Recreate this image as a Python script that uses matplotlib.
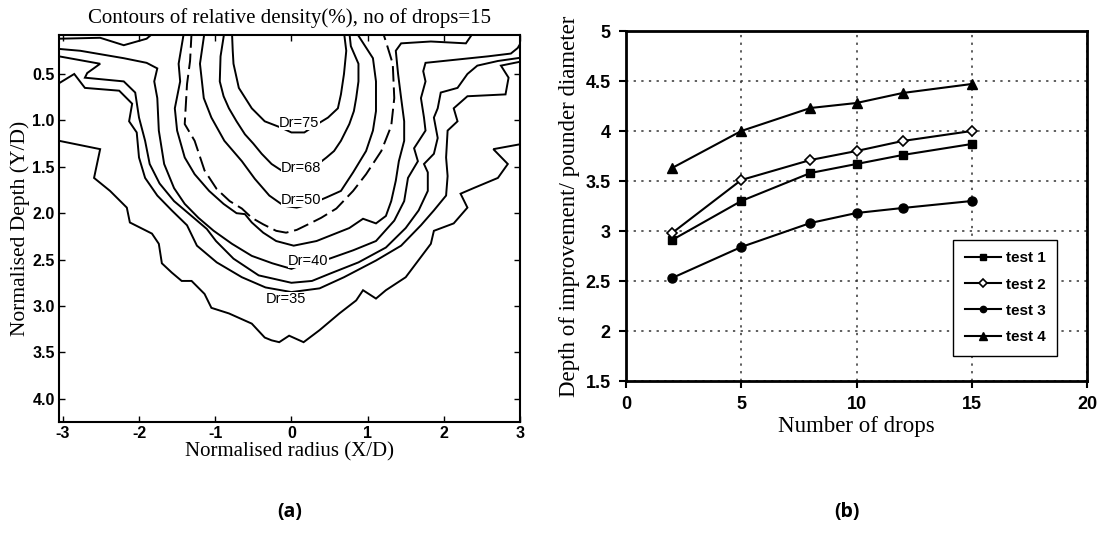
import matplotlib
matplotlib.use("Agg")
import matplotlib.pyplot as plt

plt.rcParams["axes.unicode_minus"] = False

# ---------------- panel (a): contour lines (x/D, y/D) ----------------
dr75_x = [-0.78, -0.77, -0.76, -0.69, -0.52, -0.35, -0.13, 0.0, 0.17, 0.30, 0.48, 0.61, 0.65, 0.69, 0.72, 0.69]
dr75_y = [0.05, 0.25, 0.39, 0.65, 0.87, 1.01, 1.08, 1.13, 1.13, 1.06, 0.97, 0.87, 0.72, 0.50, 0.25, 0.05]

dr68_x = [-0.88, -0.93, -0.94, -0.89, -0.82, -0.72, -0.61, -0.50, -0.39, -0.26, -0.13, 0.04, 0.20, 0.35,
          0.46, 0.56, 0.65, 0.76, 0.82, 0.85, 0.88, 0.88, 0.78, 0.76]
dr68_y = [0.05, 0.31, 0.58, 0.74, 0.87, 1.01, 1.15, 1.25, 1.36, 1.47, 1.54, 1.56, 1.54, 1.47,
          1.40, 1.33, 1.22, 1.04, 0.90, 0.76, 0.58, 0.39, 0.20, 0.05]

dr50_x = [-1.14, -1.20, -1.15, -1.05, -0.88, -0.65, -0.48, -0.29, -0.10, 0.07, 0.26, 0.46, 0.65, 0.81,
          0.98, 1.07, 1.11, 1.11, 1.07, 0.85]
dr50_y = [0.05, 0.39, 0.76, 0.97, 1.22, 1.44, 1.63, 1.81, 1.92, 1.94, 1.90, 1.83, 1.76, 1.56,
          1.33, 1.11, 0.90, 0.58, 0.33, 0.05]

dash_x = [-1.31, -1.33, -1.37, -1.40, -1.27, -1.14, -0.98, -0.81, -0.65, -0.52, -0.37, -0.20, -0.07, 0.07,
          0.22, 0.39, 0.59, 0.81, 0.98, 1.18, 1.31, 1.35, 1.33, 1.24, 1.20]
dash_y = [0.05, 0.36, 0.61, 1.04, 1.22, 1.54, 1.74, 1.87, 1.95, 2.05, 2.12, 2.19, 2.21, 2.18,
          2.12, 2.05, 1.95, 1.76, 1.58, 1.33, 1.06, 0.76, 0.39, 0.15, 0.05]

dr45_x = [-1.41, -1.48, -1.46, -1.53, -1.50, -1.40, -1.27, -1.08, -0.89, -0.72, -0.61, -0.52, -0.37, -0.20,
          0.03, 0.33, 0.76, 0.94, 1.11, 1.24, 1.31, 1.37, 1.41, 1.48, 1.48, 1.44, 1.40, 1.37, 1.44, 1.83,
          2.29, 2.39]
dr45_y = [0.05, 0.39, 0.58, 0.87, 1.11, 1.40, 1.58, 1.76, 1.90, 2.00, 2.01, 2.10, 2.21, 2.30,
          2.35, 2.30, 2.16, 2.06, 2.11, 2.03, 1.87, 1.65, 1.44, 1.22, 1.01, 0.76, 0.50, 0.25, 0.17, 0.15,
          0.17, 0.05]

dr40_x = [-3.05, -2.77, -2.20, -1.90, -1.76, -1.80, -1.76, -1.74, -1.67, -1.54, -1.40, -1.22, -1.02, -0.78,
          -0.52, -0.25, 0.0, 0.22, 0.50, 0.81, 1.11, 1.35, 1.48, 1.53, 1.66, 1.61, 1.76, 1.74, 1.70, 1.76,
          1.73, 1.76, 2.58, 2.88, 2.97, 3.05]
dr40_y = [0.23, 0.25, 0.33, 0.38, 0.44, 0.58, 0.76, 1.11, 1.47, 1.73, 1.90, 2.05, 2.19, 2.33,
          2.46, 2.54, 2.60, 2.53, 2.49, 2.40, 2.30, 2.08, 1.87, 1.62, 1.44, 1.30, 1.11, 0.97, 0.76, 0.58,
          0.47, 0.38, 0.31, 0.28, 0.22, 0.11]

dr38_x = [-3.05, -2.51, -2.68, -2.71, -2.20, -2.05, -2.00, -1.92, -1.86, -1.73, -1.54, -1.31, -1.11, -0.99,
          -0.76, -0.43, 0.0, 0.27, 0.51, 0.88, 1.24, 1.50, 1.67, 1.79, 1.79, 1.74, 1.87, 1.92, 1.87, 1.92,
          1.96, 2.18, 2.31, 2.44, 2.71, 3.05]
dr38_y = [0.31, 0.39, 0.49, 0.54, 0.58, 0.70, 0.97, 1.22, 1.47, 1.68, 1.87, 2.03, 2.17, 2.30,
          2.49, 2.67, 2.75, 2.73, 2.65, 2.53, 2.37, 2.16, 1.97, 1.76, 1.56, 1.47, 1.36, 1.19, 0.97, 0.87,
          0.70, 0.65, 0.50, 0.41, 0.36, 0.32]

dr35_x = [-3.05, -2.85, -2.71, -2.26, -2.09, -2.13, -2.03, -2.00, -1.92, -1.76, -1.57, -1.37, -1.24, -0.98,
          -0.65, -0.34, 0.0, 0.37, 0.69, 1.11, 1.44, 1.70, 1.87, 2.03, 2.05, 2.03, 2.05, 2.18, 2.13, 2.31,
          2.81, 2.85, 2.75, 3.05]
dr35_y = [0.60, 0.50, 0.65, 0.68, 0.82, 1.01, 1.13, 1.40, 1.62, 1.81, 1.97, 2.13, 2.35, 2.53,
          2.69, 2.80, 2.85, 2.81, 2.69, 2.51, 2.35, 2.13, 1.97, 1.81, 1.60, 1.40, 1.11, 1.01, 0.87, 0.74,
          0.72, 0.54, 0.41, 0.36]

outer_x = [-3.05, -2.51, -2.59, -2.38, -2.16, -2.12, -1.83, -1.74, -1.70, -1.57, -1.44, -1.31, -1.14, -1.05,
           -0.82, -0.52, -0.35, -0.26, -0.16, -0.03, 0.16, 0.37, 0.63, 0.85, 0.94, 1.11, 1.24, 1.50, 1.83,
           1.87, 2.13, 2.31, 2.22, 2.39, 2.71, 2.84, 2.65, 3.05]
outer_y = [1.22, 1.31, 1.62, 1.76, 1.94, 2.10, 2.22, 2.33, 2.54, 2.64, 2.73, 2.73, 2.87, 3.02,
           3.08, 3.19, 3.34, 3.37, 3.39, 3.32, 3.39, 3.26, 3.08, 2.94, 2.83, 2.92, 2.83, 2.69, 2.33,
           2.19, 2.11, 1.94, 1.79, 1.73, 1.62, 1.47, 1.31, 1.25]

corner_x = [-3.05, -2.51, -2.20, -1.90, -1.80]
corner_y = [0.12, 0.11, 0.19, 0.12, 0.05]

label_text = ["Dr=75", "Dr=68", "Dr=50", "Dr=40", "Dr=35"]
label_x = [0.10, 0.13, 0.13, 0.22, -0.07]
label_y = [1.03, 1.51, 1.86, 2.51, 2.93]

# ---------------- panel (b): depth of improvement ----------------
drops = [2, 5, 8, 10, 12, 15]
test1 = [2.91, 3.30, 3.58, 3.67, 3.76, 3.87]
test2 = [2.98, 3.51, 3.71, 3.80, 3.90, 4.00]
test3 = [2.53, 2.84, 3.08, 3.18, 3.23, 3.30]
test4 = [3.63, 4.00, 4.23, 4.28, 4.38, 4.47]

serif = ["Liberation Serif", "DejaVu Serif"]
narrow = ["Liberation Sans Narrow", "Liberation Sans", "DejaVu Sans"]
sans = ["Liberation Sans", "DejaVu Sans"]

fig = plt.figure(figsize=(11.06, 5.44), dpi=100)

# ---- (a) ----
ax1 = fig.add_axes([59 / 1106, 1 - 422 / 544, 461 / 1106, 387 / 544])
solid = [(dr75_x, dr75_y), (dr68_x, dr68_y), (dr50_x, dr50_y), (dr45_x, dr45_y),
         (dr40_x, dr40_y), (dr38_x, dr38_y), (dr35_x, dr35_y), (outer_x, outer_y), (corner_x, corner_y)]
for xs, ys in solid:
    ax1.plot(xs, ys, color="black", lw=1.4, solid_joinstyle="miter")
ax1.plot(dash_x, dash_y, color="black", lw=1.4, linestyle=(0, (8, 3)))

for t, lx, ly in zip(label_text, label_x, label_y):
    ax1.text(lx, ly, t, fontsize=10.5, family=narrow, ha="center", va="center", zorder=5,
             bbox=dict(fc="white", ec="none", pad=0.2))

ax1.set_xlim(-3.05, 3.0)
ax1.set_ylim(4.25, 0.08)
ax1.set_xticks([-3, -2, -1, 0, 1, 2, 3])
ax1.set_yticks([0.5, 1.0, 1.5, 2.0, 2.5, 3.0, 3.5, 4.0])
ax1.set_yticklabels(["0.5", "1.0", "1.5", "2.0", "2.5", "3.0", "3.5", "4.0"])
ax1.tick_params(direction="in", length=4, width=1, top=True, right=True, labelsize=11.5, pad=3)
for lab in ax1.get_xticklabels() + ax1.get_yticklabels():
    lab.set_family(narrow)
    lab.set_fontweight("bold")
for s in ax1.spines.values():
    s.set_linewidth(1.5)
ax1.set_title("Contours of relative density(%), no of drops=15", family=serif, fontsize=15, pad=9)
ax1.set_xlabel("Normalised radius (X/D)", family=serif, fontsize=15, labelpad=1)
ax1.set_ylabel("Normalised Depth (Y/D)", family=serif, fontsize=15.5, labelpad=2)

# ---- (b) ----
ax2 = fig.add_axes([626 / 1106, 1 - 381 / 544, 461 / 1106, 350 / 544])
ax2.plot(drops, test1, color="black", lw=1.5, marker="s", ms=5.5, label="test 1")
ax2.plot(drops, test2, color="black", lw=1.5, marker="D", ms=5.5, mfc="white", mew=1.2, label="test 2")
ax2.plot(drops, test3, color="black", lw=1.5, marker="o", ms=6.5, label="test 3")
ax2.plot(drops, test4, color="black", lw=1.5, marker="^", ms=7.5, label="test 4")

ax2.set_xlim(0, 20)
ax2.set_ylim(1.5, 5)
ax2.set_xticks([0, 5, 10, 15, 20])
ax2.set_yticks([1.5, 2, 2.5, 3, 3.5, 4, 4.5, 5])
ax2.set_yticklabels(["1.5", "2", "2.5", "3", "3.5", "4", "4.5", "5"])
ax2.grid(True, color="#333333", linestyle=(0, (1.5, 3.5)), linewidth=1.1)
ax2.tick_params(direction="out", length=5, width=1.5, labelsize=13, pad=6)
for lab in ax2.get_xticklabels() + ax2.get_yticklabels():
    lab.set_family(sans)
    lab.set_fontweight("bold")
for s in ax2.spines.values():
    s.set_linewidth(2)
ax2.set_xlabel("Number of drops", family=serif, fontsize=16.5, labelpad=2)
ax2.set_ylabel("Depth of improvement/ pounder diameter", family=serif, fontsize=16.5, labelpad=4)

leg = ax2.legend(loc="lower right", bbox_to_anchor=(0.952, 0.051), frameon=True, fancybox=False,
                 edgecolor="black", framealpha=1, handlelength=2.4, handletextpad=0.3,
                 labelspacing=0.8, borderpad=0.75, markerscale=0.7,
                 prop={"family": sans, "weight": "bold", "size": 11})
leg.get_frame().set_linewidth(1.0)

fig.text(290 / 1106, 1 - 512 / 544, "(a)", ha="center", va="center", fontsize=14,
         fontweight="bold", family=["Open Sans", "DejaVu Sans"])
fig.text(847 / 1106, 1 - 512 / 544, "(b)", ha="center", va="center", fontsize=14,
         fontweight="bold", family=["Open Sans", "DejaVu Sans"])

fig.savefig("out.png", dpi=100, facecolor="white")
